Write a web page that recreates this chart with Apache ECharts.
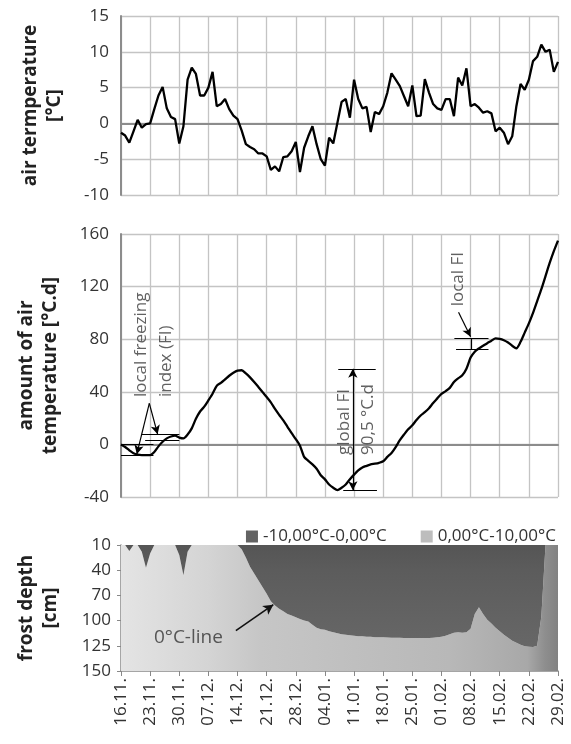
<!DOCTYPE html>
<html>
<head>
<meta charset="utf-8">
<script src="https://cdn.jsdelivr.net/npm/echarts@6/dist/echarts.min.js"></script>
<style>
html, body { margin: 0; padding: 0; background: #fff; }
#main { width: 571px; height: 744px; }
</style>
</head>
<body>
<div id="main"></div>
<script>
// week tick labels (x axis, one every 7 days, 16.11. .. 29.02.)
var weekLabels = ['16.11.', '23.11.', '30.11.', '07.12.', '14.12.', '21.12.', '28.12.', '04.01.',
    '11.01.', '18.01.', '25.01.', '01.02.', '08.02.', '15.02.', '22.02.', '29.02.'];

// daily mean air temperature [°C], day 0 = 16.11.
var airTemp = [
    -1.3, -1.7, -2.7, -1.1, 0.5, -0.6, -0.1, 0.0, 2.0, 3.9,
    5.1, 2.1, 0.9, 0.6, -2.8, -0.4, 6.1, 7.8, 6.9, 3.9,
    3.9, 5.0, 7.2, 2.4, 2.7, 3.4, 2.0, 1.1, 0.6, -1.0,
    -2.9, -3.3, -3.6, -4.2, -4.2, -4.6, -6.5, -6.0, -6.7, -4.7,
    -4.6, -3.9, -2.6, -6.8, -3.4, -1.8, -0.4, -2.9, -5.0, -5.9,
    -2.0, -2.8, 0.1, 3.0, 3.4, 0.8, 6.1, 3.4, 2.1, 2.3,
    -1.2, 1.6, 1.3, 2.4, 4.3, 7.0, 6.1, 5.2, 3.8, 2.4,
    5.3, 1.0, 1.1, 6.2, 4.3, 2.7, 2.1, 1.9, 3.4, 3.4,
    1.0, 6.4, 5.3, 7.7, 2.4, 2.7, 2.2, 1.5, 1.7, 1.4,
    -1.1, -0.6, -1.3, -2.9, -1.8, 2.4, 5.5, 4.7, 6.1, 8.7,
    9.3, 11.0, 10.0, 10.3, 7.2, 8.6
];

// amount of air temperature [°C.d]
var airSum = [
    0, -2, -4.5, -6.8, -7.8, -8.1, -8.1, -8.1, -5.8, -1.5,
    2, 4.6, 6, 6.6, 5.2, 4.6, 7.5, 12.2, 19.5, 25,
    28.7, 33.5, 38.5, 44.5, 46.8, 49.5, 52.2, 54.5, 56.1, 56.4,
    54, 51, 47.5, 43.7, 39.8, 36, 32, 27, 22.5, 18.2,
    13.4, 8.5, 4, -1, -9.5, -12.5, -15.2, -18.5, -23.5, -26.6,
    -30.5, -33, -34.8, -33, -30.5, -26.5, -23, -19.8, -17.5, -16.3,
    -15.2, -14.7, -14, -12.8, -9.5, -6.5, -2, 3.2, 7.5, 11.5,
    14.5, 18.5, 22, 24.5, 27.5, 31.5, 35, 38.5, 40.5, 43,
    47.5, 50.2, 52.5, 57.5, 66, 70.5, 73, 75, 77, 78.8,
    80.7, 80.3, 79.2, 77.5, 75, 73.1, 78, 85, 92, 100,
    109, 118, 128, 138, 147, 155
];

// depth of the 0°C-line [cm]
var frostDepth = [
    10, 10, 17, 10, 10, 18, 37, 20, 10, 10,
    10, 10, 10, 10, 22, 46, 18, 10, 10, 10,
    10, 10, 10, 10, 10, 10, 10, 10, 10, 15,
    25, 36, 44, 52, 60, 68, 77, 82, 86, 89,
    92, 94, 96, 98, 100, 101, 104, 107, 108.5, 109,
    110.5, 111.5, 112.5, 113.5, 114, 114.5, 115, 115.5, 115.5, 116,
    116, 116.5, 116.5, 116.5, 116.7, 117, 117, 117, 117.3, 117.3,
    117.3, 117.3, 117.3, 117.3, 117.3, 117, 116.5, 116, 115, 113.5,
    112, 111.5, 112, 111.5, 108, 92, 84, 92, 99, 103,
    107, 110.5, 114, 117, 120, 122, 124, 125.5, 126, 126.3,
    125, 95, 10, 10, 10, 10
];

// depth tick labels of the frost panel (equally spaced)
var depthTicks = [10, 40, 70, 100, 125, 150];

// annotation lines in the middle panel, [day, °C.d]
var fiSegments = [
    [[0, 0], [7.8, 0]],
    [[0, -8.3], [7.8, -8.3]],
    [[5.0, 8.0], [14.0, 8.0]],
    [[5.8, 3.4], [14.0, 3.4]],
    [[52.2, 57.5], [61.2, 57.5]],
    [[53.4, -35.0], [61.5, -35.0]],
    [[80.1, 80.8], [88.3, 80.8]],
    [[80.5, 72.4], [88.3, 72.4]],
    [[84.2, 80.8], [84.2, 72.4]]
];
var fiArrows = [
    [[6.8, 31.2], [3.8, -7.4]],
    [[6.8, 31.2], [8.8, 7.8]],
    [[81.1, 100.5], [84.0, 81.8]]
];
var fiDoubleArrow = [[55.7, 57.5], [55.7, -34.8]];
var fiLabels = [
    [4.8, 36, 'local freezing'],
    [10.8, 36, 'index (FI)'],
    [53.6, -8, 'global FI'],
    [59.3, -8, '90,5 °C.d'],
    [80.9, 105, 'local FI']
];
var zeroLineLabel = [7.9, 117, '0°C-line'];
var zeroLineArrow = [[27.6, 110], [36.6, 81]];

// depth -> position on the equally spaced depth axis
function toIdx(depth) {
    for (var k = 1; k < depthTicks.length; k++) {
        if (depth <= depthTicks[k]) {
            return k - 1 + (depth - depthTicks[k - 1]) / (depthTicks[k] - depthTicks[k - 1]);
        }
    }
    return depthTicks.length - 1;
}

function pairs(arr) {
    return arr.map(function (v, i) { return [i, v]; });
}

var myChart = echarts.init(document.getElementById('main'));

var FONT = '"Open Sans", "Noto Sans", sans-serif';
var gridColor = '#c4c4c4';
var axisColor = '#8c8c8c';

var markLines = [];
fiSegments.forEach(function (s) {
    markLines.push([{ coord: s[0], symbol: 'none' }, { coord: s[1], symbol: 'none' }]);
});
fiArrows.forEach(function (s) {
    markLines.push([{ coord: s[0], symbol: 'none' }, { coord: s[1], symbol: 'arrow' }]);
});
markLines.push([{ coord: fiDoubleArrow[0], symbol: 'arrow' }, { coord: fiDoubleArrow[1], symbol: 'arrow' }]);

function weekX(gridIndex, showLabels) {
    return {
        type: 'value', gridIndex: gridIndex, min: 0, max: 105, interval: 7,
        axisLine: showLabels ? { onZero: false, lineStyle: { color: '#888', width: 1.5 } }
                             : { onZero: true, lineStyle: { color: axisColor, width: 2 } },
        axisTick: { show: showLabels, length: 5, lineStyle: { color: '#888' } },
        axisLabel: {
            show: showLabels, rotate: 90, margin: 7, fontSize: 17, color: '#333', fontFamily: FONT,
            formatter: function (v) { return weekLabels[Math.round(v / 7)]; }
        },
        splitLine: { show: !showLabels, lineStyle: { color: gridColor, width: 1.3 } }
    };
}

var yName = { fontSize: 19, fontWeight: 'bold', color: '#222', fontFamily: FONT, lineHeight: 24 };
var yLabel = { fontSize: 17, color: '#333', fontFamily: FONT, margin: 12 };

option = {
    animation: false,
    backgroundColor: '#fff',
    grid: [
        { left: 121, right: 13, top: 16, height: 179 },
        { left: 121, right: 13, top: 234, height: 263 },
        { left: 121, right: 13, top: 545, height: 126 }
    ],
    legend: {
        data: ['-10,00°C-0,00°C', '0,00°C-10,00°C'],
        right: 10, top: 523,
        icon: 'rect', itemWidth: 12, itemHeight: 12, itemGap: 34,
        textStyle: { fontSize: 17, color: '#333', fontFamily: FONT }
    },
    xAxis: [weekX(0, false), weekX(1, false), weekX(2, true)],
    yAxis: [
        {
            type: 'value', gridIndex: 0, min: -10, max: 15, interval: 5,
            name: 'air termperature\n[°C]', nameLocation: 'middle', nameRotate: 90, nameGap: 54,
            nameTextStyle: yName,
            axisLine: { show: true, lineStyle: { color: axisColor, width: 2 } },
            axisTick: { show: false },
            axisLabel: yLabel,
            splitLine: { lineStyle: { color: gridColor, width: 1.3 } }
        },
        {
            type: 'value', gridIndex: 1, min: -40, max: 160, interval: 40,
            name: 'amount of air\ntemperature [°C.d]', nameLocation: 'middle', nameRotate: 90, nameGap: 58,
            nameTextStyle: yName,
            axisLine: { show: true, lineStyle: { color: axisColor, width: 2 } },
            axisTick: { show: false },
            axisLabel: yLabel,
            splitLine: { lineStyle: { color: gridColor, width: 1.3 } }
        },
        {
            type: 'value', gridIndex: 2, min: 0, max: 5, interval: 1, inverse: true,
            name: 'frost depth\n[cm]', nameLocation: 'middle', nameRotate: 90, nameGap: 58,
            nameTextStyle: yName,
            axisLine: { show: true, lineStyle: { color: '#888', width: 1.5 } },
            axisTick: { show: true, length: 4, lineStyle: { color: '#888' } },
            axisLabel: {
                fontSize: 17, color: '#333', fontFamily: FONT, margin: 10,
                formatter: function (v) { return depthTicks[Math.round(v)]; }
            },
            splitLine: { show: false }
        }
    ],
    series: [
        {
            name: 'air temperature', type: 'line', xAxisIndex: 0, yAxisIndex: 0,
            data: pairs(airTemp), showSymbol: false, silent: true, z: 5,
            lineStyle: { color: '#000', width: 2.3 }
        },
        {
            name: 'amount of air temperature', type: 'line', xAxisIndex: 1, yAxisIndex: 1,
            data: pairs(airSum), showSymbol: false, silent: true, smooth: 0.25, z: 5,
            lineStyle: { color: '#000', width: 2.3 },
            markLine: {
                silent: true, symbolSize: [7, 9], animation: false,
                label: { show: false },
                lineStyle: { color: '#000', width: 1.2, type: 'solid' },
                data: markLines
            }
        },
        {
            name: 'labels', type: 'scatter', xAxisIndex: 1, yAxisIndex: 1,
            symbolSize: 0, silent: true, z: 6,
            data: fiLabels.map(function (t) {
                return { value: [t[0], t[1]], label: { formatter: t[2] } };
            }),
            label: {
                show: true, position: 'inside', rotate: 90, align: 'left', verticalAlign: 'middle',
                fontSize: 17, color: '#3a3a3a', fontFamily: FONT
            }
        },
        {
            name: '0,00°C-10,00°C', type: 'line', xAxisIndex: 2, yAxisIndex: 2,
            data: frostDepth.map(function (d, i) { return [i, toIdx(d)]; }),
            showSymbol: false, silent: true,
            itemStyle: { color: '#bdbdbd' },
            lineStyle: { width: 0 },
            areaStyle: {
                origin: 'end', opacity: 1,
                color: new echarts.graphic.LinearGradient(0, 0, 1, 0, [
                    { offset: 0, color: '#e4e4e4' },
                    { offset: 0.2, color: '#d4d4d4' },
                    { offset: 0.32, color: '#c6c6c6' },
                    { offset: 0.75, color: '#b8b8b8' },
                    { offset: 0.93, color: '#a8a8a8' },
                    { offset: 0.97, color: '#8e8e8e' },
                    { offset: 1, color: '#828282' }
                ])
            }
        },
        {
            name: '-10,00°C-0,00°C', type: 'line', xAxisIndex: 2, yAxisIndex: 2,
            data: frostDepth.map(function (d, i) { return [i, toIdx(d)]; }),
            showSymbol: false, silent: true,
            itemStyle: { color: '#636363' },
            lineStyle: { width: 0 },
            areaStyle: {
                origin: 'start', opacity: 1,
                color: new echarts.graphic.LinearGradient(0, 0, 0, 1, [
                    { offset: 0, color: '#555' },
                    { offset: 0.25, color: '#5c5c5c' },
                    { offset: 1, color: '#676767' }
                ])
            }
        },
        {
            name: '0°C-line', type: 'scatter', xAxisIndex: 2, yAxisIndex: 2,
            symbolSize: 0, silent: true, z: 6,
            data: [{ value: [zeroLineLabel[0], toIdx(zeroLineLabel[1])] }],
            label: {
                show: true, position: 'inside', align: 'left', verticalAlign: 'middle',
                formatter: zeroLineLabel[2], fontSize: 19, color: '#333', fontFamily: FONT
            },
            markLine: {
                silent: true, symbolSize: [8, 10], animation: false,
                label: { show: false },
                lineStyle: { color: '#111', width: 1.6, type: 'solid' },
                data: [[
                    { coord: [zeroLineArrow[0][0], toIdx(zeroLineArrow[0][1])], symbol: 'none' },
                    { coord: [zeroLineArrow[1][0], toIdx(zeroLineArrow[1][1])], symbol: 'arrow' }
                ]]
            }
        }
    ]
};
myChart.setOption(option);
window.addEventListener('resize', function () {
    myChart.resize();
});
</script>
</body>
</html>
